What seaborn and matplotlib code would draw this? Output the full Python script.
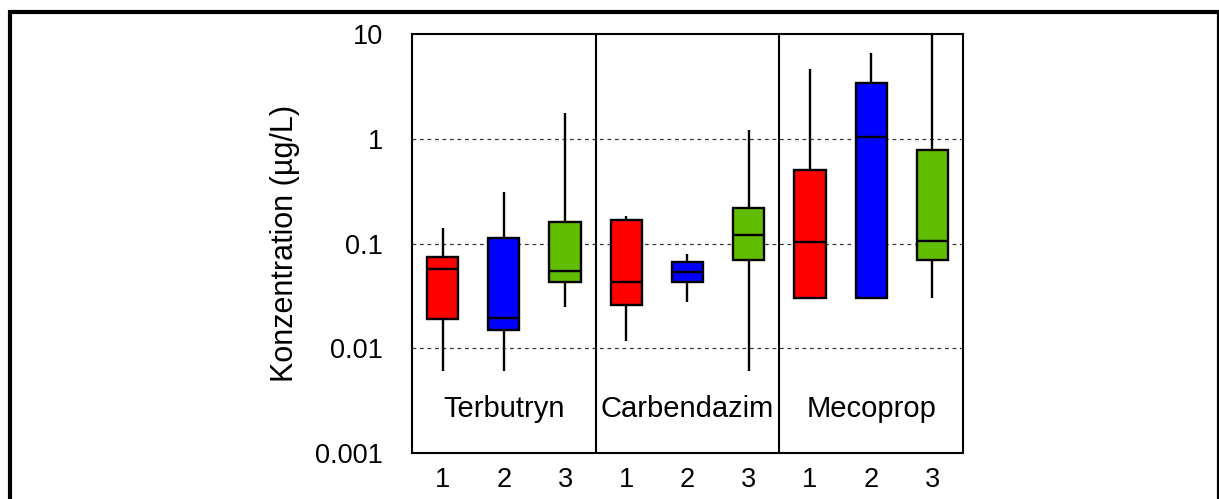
import matplotlib
matplotlib.use("Agg")
import matplotlib.pyplot as plt
from matplotlib.patches import Rectangle
from matplotlib.ticker import FixedLocator, NullFormatter
import numpy as np
import pandas as pd
import seaborn as sns

# Five-number summaries per sampling site: [min, Q1, median, Q3, max] in µg/L
substances = ["Terbutryn", "Carbendazim", "Mecoprop"]
sites = ["1", "2", "3"]
terbutryn = [
    [0.006, 0.019, 0.057, 0.074, 0.14],
    [0.006, 0.015, 0.0195, 0.114, 0.31],
    [0.025, 0.043, 0.055, 0.16, 1.75],
]
carbendazim = [
    [0.0117, 0.026, 0.043, 0.167, 0.184],
    [0.0275, 0.043, 0.053, 0.066, 0.079],
    [0.006, 0.069, 0.12, 0.22, 1.21],
]
mecoprop = [
    [0.03, 0.03, 0.104, 0.50, 4.6],
    [0.03, 0.03, 1.05, 3.38, 6.6],
    [0.03, 0.069, 0.106, 0.78, 10.0],
]
site_colors = ["#ff0000", "#0000ff", "#61bd00"]
y_ticks = [0.001, 0.01, 0.1, 1, 10]
y_tick_labels = ["0.001", "0.01", "0.1", "1", "10"]

rows = []
for name, summaries in zip(substances, [terbutryn, carbendazim, mecoprop]):
    for site, five in zip(sites, summaries):
        for v in five:
            rows.append({"Substanz": name, "Standort": site, "Konzentration": v})
df = pd.DataFrame(rows)

sns.set_style("white")
plt.rcParams["font.family"] = ["Liberation Sans", "DejaVu Sans"]
plt.rcParams["text.color"] = "black"
plt.rcParams["axes.labelcolor"] = "black"
plt.rcParams["xtick.color"] = "black"
plt.rcParams["ytick.color"] = "black"

fig = plt.figure(figsize=(12.19, 4.99), dpi=100)
ax = fig.add_axes([0.33798, 0.09218, 0.45201, 0.83968])

sns.boxplot(
    data=df, x="Substanz", y="Konzentration", hue="Standort",
    order=substances, hue_order=sites,
    palette=dict(zip(sites, site_colors)), saturation=1,
    width=1.0, gap=0.49, dodge=True, whis=(0, 100),
    showcaps=False, showfliers=False,
    linecolor="black", linewidth=1.7, log_scale=(False, True),
    legend=False, ax=ax,
)

ax.set_ylim(0.001, 10)
ax.set_xlim(-0.5, 2.5)

# y axis: decades with minor ticks at 2, 4, 6, 8
ax.yaxis.set_major_locator(FixedLocator(y_ticks))
ax.set_yticklabels(y_tick_labels)
minor = [m * 10.0 ** e for e in range(-3, 1) for m in (2, 4, 6, 8)]
ax.yaxis.set_minor_locator(FixedLocator(minor))
ax.yaxis.set_minor_formatter(NullFormatter())
ax.tick_params(axis="y", which="major", direction="out", length=10, width=1.5,
               labelsize=19.5, pad=11, right=False)
ax.tick_params(axis="y", which="minor", direction="out", length=4.5, width=1.5,
               right=False)

# horizontal dotted reference lines
for v in [0.01, 0.1, 1]:
    ax.axhline(v, color="#3a3a3a", lw=0.9, ls=(0, (3, 3)), zorder=0)

# group separators, extended below the axis as major x ticks
ax.set_xticks([0.5, 1.5])
ax.set_xticklabels(["", ""])
for xv in [0.5, 1.5]:
    ax.axvline(xv, color="black", lw=1.5, zorder=1)
ax.tick_params(axis="x", which="major", direction="out", length=10, width=1.5,
               top=False)

# site numbers under each box
site_pos = [i + d for i in range(len(substances)) for d in (-1 / 3, 0, 1 / 3)]
ax.set_xticks(site_pos, minor=True)
ax.set_xticklabels(sites * len(substances), minor=True)
ax.tick_params(axis="x", which="minor", length=0, labelsize=19.5, pad=10)

# substance names inside each group
for i, name in enumerate(substances):
    ax.text(i, 0.00222, name, ha="center", va="baseline", fontsize=21)

ax.set_xlabel("")
ax.set_ylabel("Konzentration (µg/L)", fontsize=22, labelpad=11)

for sp in ax.spines.values():
    sp.set_visible(True)
    sp.set_color("black")
    sp.set_linewidth(1.5)
ax.grid(False)

# outer frame around the figure
fig.patches.append(Rectangle((9.5 / 1219, -0.1), (1218.5 - 9.5) / 1219, 1.076,
                             transform=fig.transFigure, fill=False,
                             edgecolor="black", lw=3, clip_on=False))

fig.savefig("out.png", dpi=100)
